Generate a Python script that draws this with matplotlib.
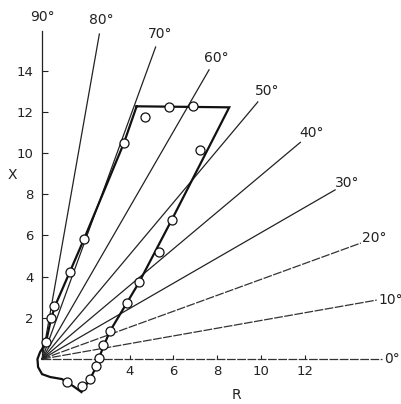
import numpy as np
import matplotlib.pyplot as plt

# ray angles (degrees)
angles = [0, 10, 20, 30, 40, 50, 60, 70, 80, 90]

# closed loop (thick line)
loop_R = [4.32, 8.55, 5.92, 4.43, 3.87, 3.11, 2.83, 2.60, 2.47, 2.19, 1.80,
          1.42, 0.91, 0.37, 0.00, -0.18, -0.21, -0.09, 0.09, 0.23, 0.41,
          0.59, 1.92, 3.74, 4.32]
loop_X = [12.27, 12.22, 6.75, 3.72, 2.72, 1.37, 0.68, 0.05, -0.39, -0.97, -1.60,
          -1.31, -0.97, -0.87, -0.73, -0.39, 0.00, 0.34, 0.63, 1.07, 1.94,
          2.57, 5.83, 10.49, 12.27]

# measured points (open circles)
pts_R = [0.18, 0.40, 0.56, 1.28, 1.93, 3.76, 4.70, 5.80, 6.91, 7.21, 5.92,
         5.34, 4.43, 3.87, 3.11, 2.80, 2.60, 2.45, 2.19, 1.81, 1.13]
pts_X = [0.84, 1.98, 2.56, 4.24, 5.83, 10.47, 11.73, 12.22, 12.27, 10.15, 6.75,
         5.18, 3.72, 2.72, 1.37, 0.68, 0.03, -0.33, -0.97, -1.30, -1.10]

x_ticks = [4, 6, 8, 10, 12]
y_ticks = [2, 4, 6, 8, 10, 12, 14]

fig = plt.figure(figsize=(4.02, 4.04), dpi=100)
ax = fig.add_axes([0, 0, 1, 1])
xmin, xmax = -1.92, 16.44
ymin, ymax = -2.18, 17.43
ax.set_xlim(xmin, xmax)
ax.set_ylim(ymin, ymax)

# pixels per data unit, so rays keep their drawn angle
sx = 402 / (xmax - xmin)
sy = 404 / (ymax - ymin)

for a in angles:
    t = np.radians(a)
    ray_px = 328 + 12 * np.cos(t)
    r_end = ray_px * np.cos(t) / sx
    x_end = ray_px * np.sin(t) / sy
    if a <= 20:
        ax.plot([0, r_end], [0, x_end], color="#333333", lw=0.9,
                ls=(0, (7, 1.2)), zorder=1)
    else:
        ax.plot([0, r_end], [0, x_end], color="#222222", lw=0.9, zorder=1)
    if a <= 10:
        lr = (ray_px + 2) * np.cos(t) / sx
        lx = (ray_px + 2) * np.sin(t) / sy
        ax.text(lr, lx, f"{a}°", ha="left", va="center", fontsize=10,
                color="#222222")
    else:
        lr = (ray_px + 14) * np.cos(t) / sx
        lx = (ray_px + 14) * np.sin(t) / sy
        ax.text(lr, lx, f"{a}°", ha="center", va="center", fontsize=10,
                color="#222222")

ax.plot(loop_R, loop_X, color="#111111", lw=1.6, zorder=2,
        solid_joinstyle="miter")
ax.plot(pts_R, pts_X, "o", mfc="white", mec="#111111", mew=0.9, ms=6.5,
        zorder=3)

for s in ["top", "right"]:
    ax.spines[s].set_visible(False)
ax.spines["left"].set_position(("data", 0))
ax.spines["bottom"].set_position(("data", 0))
ax.spines["left"].set_visible(False)
ax.spines["bottom"].set_visible(False)

ax.set_xticks(x_ticks)
ax.set_yticks(y_ticks)
ax.tick_params(axis="y", direction="in", length=4, width=0.8, pad=6,
               labelsize=9.5, colors="#222222")
ax.tick_params(axis="x", direction="in", length=3, width=0.8, pad=4,
               labelsize=9.5, colors="#222222")

ax.text(-1.37, 8.93, "X", ha="center", va="center", fontsize=10,
        color="#222222")
ax.text(8.9, -1.75, "R", ha="center", va="center", fontsize=10,
        color="#222222")

fig.savefig("out.png", dpi=100)
